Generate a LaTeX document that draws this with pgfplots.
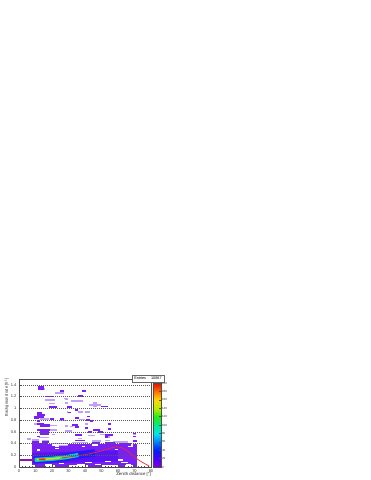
\documentclass[border=0pt]{standalone}
\usepackage{pgfplots}
\pgfplotsset{compat=1.18}
\usepackage{fontspec}
\setmainfont{Liberation Sans}
\definecolor{vd}{HTML}{7A20F2}
\definecolor{vl}{HTML}{C0A0FA}
\definecolor{vm}{HTML}{5A14F4}
\definecolor{bd}{HTML}{2A18F8}
\definecolor{cy}{HTML}{00C8E0}
\definecolor{gr}{HTML}{20E078}
\definecolor{ye}{HTML}{D8E000}
\definecolor{re}{HTML}{F03010}
\definecolor{ma}{HTML}{9010B0}
\pgfplotsset{seg/.style={no marks,line cap=butt,line join=miter,forget plot}}
\begin{document}
\begin{tikzpicture}[x=1pt,y=1pt]
\path[use as bounding box] (0,0) rectangle (371,480);
\begin{axis}[
 at={(19pt,13pt)},anchor=south west,
 scale only axis,width=132pt,height=88pt,
 xmin=0,xmax=80,ymin=0,ymax=1.5,
 font=\fontsize{4}{4.5}\selectfont,
 /pgf/number format/assume math mode=true,
 xtick={0,10,...,80},ytick={0,0.2,...,1.4},
 yticklabels={0,0.2,0.4,0.6,0.8,1,1.2,1.4},
 minor x tick num=4,minor y tick num=4,
 tick align=inside,xtick pos=bottom,ytick pos=left,
 major tick length=2.6pt,minor tick length=1.3pt,
 tick style={black!70,line width=.25pt},
 xticklabel style={yshift=1pt,text=black!80},yticklabel style={xshift=1pt,text=black!80},
 axis line style={line width=.5pt,black!70},
 ymajorgrids,grid style={black!65,dash pattern=on .8pt off 1.2pt,line width=.35pt},
 axis on top,
 point meta min=0,point meta max=200,
 colormap={rootpal}{rgb255(0cm)=(130,0,225);rgb255(1cm)=(70,0,255);rgb255(2cm)=(0,30,255);rgb255(3cm)=(0,130,255);rgb255(4cm)=(0,230,235);rgb255(5cm)=(0,235,130);rgb255(6cm)=(40,235,20);rgb255(7cm)=(190,235,0);rgb255(8cm)=(255,215,0);rgb255(9cm)=(255,110,0);rgb255(10cm)=(225,15,0)},
 colorbar,
 colorbar style={at={(1.015,0)},anchor=south west,scale only axis,width=8pt,height=84pt,
   ytick={0,20,...,200},ytick pos=right,tick align=inside,major tick length=2pt,
   font=\fontsize{3}{3.2}\selectfont,yticklabel style={xshift=-2.5pt,text=black!80},
   axis line style={line width=.45pt,black!70},tick style={black!70,line width=.25pt},
   /pgf/number format/assume math mode=true},
]
\addplot[seg,vl,line width=1.5pt] coordinates {
(15,1.33)(16,1.33)

(22,1.26)(27,1.26)

(27,1.17)(29.5,1.17)

(16,1.14)(22,1.14)

(18,1.08)(22,1.08)

(29,.94)(30,.94)

(12.5,.82)(18,.82)

(24.5,.79)(29,.79)

(9,.73)(11,.73)

(19,.71)(23,.71)

(19,.63)(23,.63)

(5,.48)(7,.48)

(12,.50)(18,.50)

(20,.55)(22,.55)

(28,1.16)(29.5,1.16)

(31.5,1.125)(38.5,1.125)

(28,1.09)(29.5,1.09)

(45,1.09)(47,1.09)

(42.5,1.06)(50,1.06)

(45,1.03)(47,1.03)

(36,.94)(39,.94)

(40,.94)(43,.94)

(36.5,.81)(40,.81)

(40,.73)(42,.73)

(31,.69)(33,.69)

(28,.70)(30,.70)

(28,.61)(32,.61)

(42,.54)(46,.54)

(49,.55)(52,.55)

(36,.49)(38,.49)

(52,.51)(55,.51)

(20,.40)(30,.40)

(32,.42)(42,.42)

(44,.44)(50,.44)

(24,.37)(30,.37)

(57,.43)(66,.43)

(69,.55)(71,.55)

(8,.46)(12,.46)

(14,.45)(18,.45)

(52,.45)(55,.45)
};
\addplot[seg,vd,line width=1.8pt] coordinates {
(11.5,1.36)(15,1.36)

(11.5,1.33)(15,1.33)

(25,1.29)(27,1.29)

(16,1.20)(21,1.20)

(18,1.02)(23,1.02)

(11,.92)(14,.92)

(11,.88)(16,.88)

(9,.85)(15,.85)

(9,.83)(12,.83)

(11,.79)(13,.79)

(19,.82)(21,.82)

(25,.82)(27,.82)

(11,.73)(15,.73)

(15,.72)(19,.72)

(13,.70)(19,.70)

(11,.63)(19,.63)

(13,.59)(18,.59)

(13,.56)(18,.56)

(11,.52)(13,.52)

(38,1.30)(40.5,1.30)

(36,1.205)(38.5,1.205)

(50,1.03)(54,1.03)

(29,1.02)(32,1.02)

(34,.97)(36,.97)

(29.5,.93)(31.5,.93)

(41,.86)(43,.86)

(34,.83)(36.5,.83)

(40.5,.80)(43,.80)

(43,.78)(45,.78)

(54,.73)(56,.73)

(32,.71)(36,.71)

(34,.68)(36.5,.68)

(40,.67)(42,.67)

(45,.63)(49,.63)

(42,.59)(44,.59)

(48,.59)(51,.59)

(34,.55)(38,.55)

(54,.65)(56,.65)

(52,.54)(57,.54)

(52,.51)(54,.51)

(8,.43)(12,.43)

(14,.43)(18,.43)

(8,.40)(17,.40)

(8,.37)(20,.37)

(69,.57)(71,.57)

(69,.52)(71,.52)

(34,.45)(40,.45)

(44,.41)(49,.41)

(52,.41)(58,.41)

(61,.40)(68,.40)

(30,.38)(44,.38)

(48,.38)(68,.38)

(69,.44)(71.5,.44)

(69,.38)(71.5,.38)

(8,.35)(22,.35)

(24,.35)(38,.35)

(40,.35)(66,.35)

(69,.35)(71.5,.35)
};
\addplot[seg,vd,line width=18pt] coordinates {(7.7,.185)(71.5,.185)};
\addplot[seg,vd,line width=1.8pt] coordinates {
(10,.02)(16,.02)

(22,.02)(30,.02)

(42,.02)(50,.02)

(60,.02)(64,.02)

(69,.02)(71.5,.02)
};
\addplot[seg,vm,line width=11pt] coordinates {(8,.15)(60,.19)};
\addplot[seg,bd,line width=7.5pt] coordinates {(9,.125)(20,.14)(28,.165)(35,.20)(46,.24)};
\addplot[seg,ma,line width=1.9pt] coordinates {(0.5,.115)(10,.115)};
\addplot[seg,cy,line width=4.2pt] coordinates {(9.5,.12)(20,.14)(28,.165)(36,.205)};
\addplot[seg,gr,line width=2.6pt] coordinates {(10,.125)(20,.14)(28,.165)(32,.18)};
\addplot[seg,ye,line width=1.5pt] coordinates {(11,.128)(20,.14)(26,.16)};
\addplot[seg,re,line width=1.6pt] coordinates {(12,.13)(16,.133)};
\addplot[seg,white,line width=1.2pt] coordinates {
(22,.31)(24,.31)

(11,.29)(13,.29)

(58,.30)(60,.30)

(44,.36)(48,.36)

(52,.09)(56,.09)

(60,.12)(63,.12)

(62,.07)(66,.07)

(40,.08)(44,.08)

(24,.06)(27,.06)

(46,.04)(50,.04)

(16,.04)(20,.04)

(35,.04)(40,.04)

(65,.04)(68,.04)
};
\addplot[no marks,forget plot,color={rgb,255:red,240;green,40;blue,60},line width=.7pt] coordinates {
(25,.15)(30,.17)(35,.19)(40,.21)(45,.24)(50,.275)(55,.32)(59,.345)(62,.33)(65,.29)(68,.22)(70,.17)(73,.11)(76,.06)(79,.015)};
\end{axis}
\node[font=\fontsize{3.8}{4}\selectfont,draw=black!60,line width=.6pt,fill=white,inner sep=0pt,
 minimum width=32pt,minimum height=7pt] at (148,101.5) {Entries\hspace{5pt}10867};
\node[font=\fontsize{4.3}{4.5}\selectfont,anchor=north east,inner sep=0pt,text=black!85] at (151,8.2) {Zenith distance [°]};
\node[font=\fontsize{4}{4.5}\selectfont,rotate=90,anchor=north east,inner sep=0pt,text=black!85] at (4.5,101.5) {Background rate [h\raisebox{1.2pt}{\fontsize{2.8}{3}\selectfont -1}]};
\end{tikzpicture}
\end{document}
